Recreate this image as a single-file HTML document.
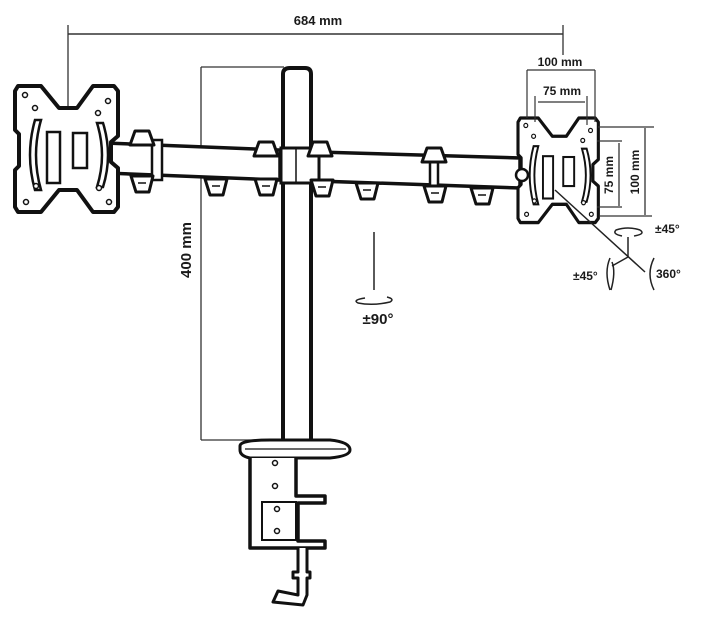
<!DOCTYPE html>
<html><head><meta charset="utf-8"><style>
html,body{margin:0;padding:0;background:#fff}
svg{display:block}
text{font-family:"Liberation Sans",sans-serif;font-weight:bold;fill:#1a1a1a}
</style></head><body>
<svg width="701" height="622" viewBox="0 0 701 622" xmlns="http://www.w3.org/2000/svg">
<defs>
<g id="plate">
<path d="M3,0 L26,0 L44,22 L62,22 L78,0 L99,0 L103,5 L103,50 L96,56 L96,76 L103,82 L103,121 L99,126 L78,126 L62,104 L44,104 L26,126 L3,126 L0,121 L0,84 L4,80 L4,48 L0,44 L0,5 Z" fill="#fff" stroke="#111" stroke-width="4" stroke-linejoin="round"/>
<path d="M20,34 Q10,69 20,104 L26,104 Q16,69 26,34 Z" fill="#fff" stroke="#111" stroke-width="2.5"/>
<path d="M88,37 Q98,69 88,101 L82,101 Q92,69 82,37 Z" fill="#fff" stroke="#111" stroke-width="2.5"/>
<rect x="32" y="46" width="13" height="51" fill="#fff" stroke="#111" stroke-width="2.5"/>
<rect x="58" y="47" width="14" height="35" fill="#fff" stroke="#111" stroke-width="2.5"/>
<g fill="#fff" stroke="#111" stroke-width="1.5">
<circle cx="10" cy="9" r="2.5"/><circle cx="93" cy="15" r="2.5"/><circle cx="11" cy="116" r="2.5"/><circle cx="94" cy="116" r="2.5"/>
<circle cx="20" cy="22" r="2.5"/><circle cx="83" cy="27" r="2.5"/><circle cx="21" cy="100" r="2.5"/><circle cx="84" cy="102" r="2.5"/>
</g>
</g>
<g id="knob">
<path d="M-12,9 L-7,-5 L7,-5 L12,9 Z" fill="#fff" stroke="#111" stroke-width="3" stroke-linejoin="round"/>
</g>
<g id="knobd">
<path d="M-11,-7 L11,-7 L7,9 L-6,9 Z" fill="#fff" stroke="#111" stroke-width="3" stroke-linejoin="round"/>
<line x1="-4" y1="0" x2="4" y2="0" stroke="#111" stroke-width="1.5"/>
</g>
</defs>

<line x1="68" y1="34" x2="563" y2="34" stroke="#333" stroke-width="1.5"/>
<line x1="68" y1="25" x2="68" y2="106" stroke="#333" stroke-width="1.3"/>
<line x1="563" y1="25" x2="563" y2="55" stroke="#333" stroke-width="1.3"/>
<text x="318" y="25" font-size="13" text-anchor="middle">684 mm</text>

<line x1="201" y1="67" x2="201" y2="440" stroke="#333" stroke-width="1.3"/>
<line x1="201" y1="67" x2="284" y2="67" stroke="#333" stroke-width="1.3"/>
<line x1="201" y1="440" x2="284" y2="440" stroke="#333" stroke-width="1.3"/>
<text transform="translate(191,250) rotate(-90)" font-size="15" text-anchor="middle">400 mm</text>

<path d="M283,440 L283,74 Q283,68 290,68 L305,68 Q311,68 311,74 L311,440" fill="#fff" stroke="#111" stroke-width="4"/>

<path d="M105,143 L280,150 L280,180 L105,173 Z" fill="#fff" stroke="#111" stroke-width="3.5"/>
<rect x="152" y="140" width="10" height="40" fill="#fff" stroke="#111" stroke-width="2.5"/>
<path d="M318,152 L520,158 L520,188 L318,181 Z" fill="#fff" stroke="#111" stroke-width="3.5"/>
<rect x="430" y="154" width="8" height="34" fill="#fff" stroke="#111" stroke-width="2.5"/>
<rect x="281" y="148" width="38" height="35" fill="#fff" stroke="#111" stroke-width="3"/>
<line x1="296" y1="149" x2="296" y2="182" stroke="#111" stroke-width="1.5"/>

<use href="#knob" x="142" y="136"/>
<use href="#knob" x="266" y="147"/>
<use href="#knob" x="320" y="147"/>
<use href="#knob" x="434" y="153"/>
<use href="#knobd" x="142" y="183"/>
<use href="#knobd" x="216" y="186"/>
<use href="#knobd" x="266" y="186"/>
<use href="#knobd" x="322" y="187"/>
<use href="#knobd" x="367" y="190"/>
<use href="#knobd" x="435" y="193"/>
<use href="#knobd" x="482" y="195"/>

<use href="#plate" transform="translate(15,86)"/>
<use href="#plate" transform="translate(518,118) scale(0.78,0.83)"/>
<circle cx="522" cy="175" r="6" fill="#fff" stroke="#111" stroke-width="2.5"/>

<line x1="527" y1="70" x2="595" y2="70" stroke="#333" stroke-width="1.3"/>
<line x1="527" y1="70" x2="527" y2="118" stroke="#333" stroke-width="1.2"/>
<line x1="595" y1="70" x2="595" y2="122" stroke="#333" stroke-width="1.2"/>
<text x="560" y="66" font-size="12" text-anchor="middle">100 mm</text>
<line x1="538" y1="102" x2="585" y2="102" stroke="#333" stroke-width="1.3"/>
<line x1="535" y1="96" x2="535" y2="122" stroke="#333" stroke-width="1.2"/>
<line x1="587" y1="96" x2="587" y2="125" stroke="#333" stroke-width="1.2"/>
<text x="562" y="95" font-size="12" text-anchor="middle">75 mm</text>
<line x1="598" y1="127" x2="654" y2="127" stroke="#333" stroke-width="1.2"/>
<line x1="600" y1="216" x2="652" y2="216" stroke="#333" stroke-width="1.2"/>
<line x1="645" y1="128" x2="645" y2="215" stroke="#333" stroke-width="1.3"/>
<line x1="597" y1="141" x2="622" y2="141" stroke="#333" stroke-width="1.2"/>
<line x1="597" y1="207" x2="622" y2="207" stroke="#333" stroke-width="1.2"/>
<line x1="619" y1="143" x2="619" y2="206" stroke="#333" stroke-width="1.3"/>
<text transform="translate(613,175) rotate(-90)" font-size="12" text-anchor="middle">75 mm</text>
<text transform="translate(639,172) rotate(-90)" font-size="12" text-anchor="middle">100 mm</text>

<g stroke="#222" stroke-width="1.5" fill="none">
<line x1="555" y1="190" x2="645" y2="272"/>
<line x1="628" y1="257" x2="628" y2="237"/>
<line x1="628" y1="257" x2="612" y2="266"/>
<path d="M640,230 Q628,226 616,230 Q612,234 622,236 M634,236 Q646,234 640,230"/>
<path d="M610,258 Q604,272 610,290"/>
<path d="M612,262 Q616,272 611,290"/>
<path d="M654,258 Q646,274 654,290"/>
</g>
<text x="655" y="233" font-size="12">±45°</text>
<text x="573" y="280" font-size="12">±45°</text>
<text x="656" y="278" font-size="12">360°</text>

<line x1="374" y1="232" x2="374" y2="290" stroke="#222" stroke-width="1.5"/>
<path d="M365,298 Q352,300 358,303 Q373,306 390,302 Q395,299 387,297" fill="none" stroke="#222" stroke-width="1.5"/>
<text x="378" y="324" font-size="15" text-anchor="middle">±90°</text>

<path d="M240,446 Q240,440 270,440 L330,440 Q350,442 350,450 Q350,456 330,458 L250,458 Q240,456 240,450 Z" fill="#fff" stroke="#111" stroke-width="3"/>
<line x1="245" y1="449" x2="346" y2="449" stroke="#111" stroke-width="1.2"/>
<path d="M250,458 L250,548 L325,548 L325,541 L298,541 L298,503 L325,503 L325,496 L296,496 L296,458" fill="#fff" stroke="#111" stroke-width="3.5" stroke-linejoin="round"/>
<rect x="262" y="502" width="34" height="38" fill="#fff" stroke="#111" stroke-width="2"/>
<g fill="#fff" stroke="#111" stroke-width="1.5">
<circle cx="275" cy="463" r="2.5"/><circle cx="275" cy="486" r="2.5"/><circle cx="277" cy="509" r="2.5"/><circle cx="277" cy="531" r="2.5"/>
</g>
<path d="M298,548 L298,572 L293,572 L293,578 L298,578 L298,595 L278,591 L273,602 L303,605 L307,595 L307,578 L310,578 L310,572 L307,572 L307,548" fill="#fff" stroke="#111" stroke-width="3" stroke-linejoin="round"/>
</svg>
</body></html>
